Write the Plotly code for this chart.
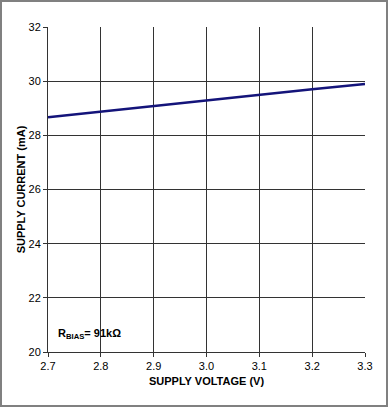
import plotly.graph_objects as go

voltage = [2.7, 2.8, 2.9, 3.0, 3.1, 3.2, 3.3]
current = [28.67, 28.88, 29.08, 29.29, 29.49, 29.70, 29.90]
x_ticks = [2.7, 2.8, 2.9, 3.0, 3.1, 3.2, 3.3]
x_tick_labels = ["2.7", "2.8", "2.9", "3.0", "3.1", "3.2", "3.3"]
y_ticks = [20, 22, 24, 26, 28, 30, 32]

W, H = 389, 407
L, R, T, B = 48, 24, 27, 55
pw, ph = W - L - R, H - T - B

fig = go.Figure()
fig.add_trace(go.Scatter(x=voltage, y=current, mode="lines",
                         line=dict(color="#14147a", width=2.5), showlegend=False))

font = dict(family="Arial, Liberation Sans, sans-serif", size=11, color="black")

fig.update_layout(
    width=W, height=H,
    margin=dict(l=L, r=R, t=T, b=B, autoexpand=False),
    paper_bgcolor="white", plot_bgcolor="white",
    font=font,
    xaxis=dict(range=[2.7, 3.3], tickvals=x_ticks, ticktext=x_tick_labels,
               showgrid=True, gridcolor="#333333", gridwidth=1,
               ticks="outside", ticklen=4, tickcolor="#333333",
               showline=True, linecolor="#333333", linewidth=1, mirror=False,
               zeroline=False,
               title=dict(text="<b>SUPPLY VOLTAGE (V)</b>", standoff=6, font=font)),
    yaxis=dict(range=[20, 32], tickvals=y_ticks,
               showgrid=True, gridcolor="#333333", gridwidth=1,
               ticks="outside", ticklen=4, tickcolor="#333333",
               showline=True, linecolor="#333333", linewidth=1,
               zeroline=False,
               title=dict(text="<b>SUPPLY CURRENT (mA)</b>", standoff=0, font=font)),
    annotations=[dict(text="<b>R<sub>BIAS</sub>= 91kΩ</b>", x=2.716, y=20.65,
                      xref="x", yref="y", xanchor="left", yanchor="middle",
                      showarrow=False, font=dict(family="Arial, Liberation Sans, sans-serif", size=11, color="black"))],
    shapes=[dict(type="rect", xref="paper", yref="paper",
                 x0=(1 - L) / pw, x1=(W - 2 - L) / pw,
                 y0=-(B - 1) / ph,
                 y1=(ph + T - 1) / ph,
                 line=dict(color="#808080", width=2), fillcolor="rgba(0,0,0,0)", layer="above")],
)

fig.write_html("out.html", config={"displayModeBar": False},
               post_script="document.body.style.margin='0';document.body.style.padding='0';")
